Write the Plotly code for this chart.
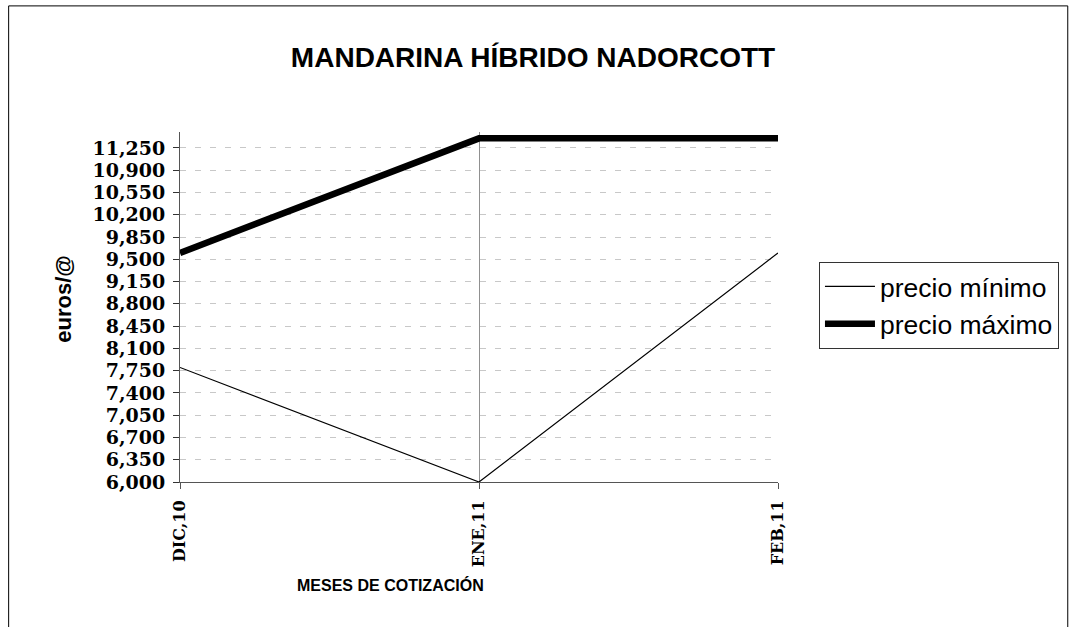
import plotly.graph_objects as go

# ---- data ----
meses = ["DIC,10", "ENE,11", "FEB,11"]
precio_minimo = [7.80, 6.00, 9.60]
precio_maximo = [9.60, 11.40, 11.40]
y_ticks = [6.00 + 0.35 * i for i in range(16)]  # 6,000 ... 11,250

W, H = 1072, 627
L, R, T, B = 179.5, W - 778, 132, H - 481.7
PW, PH = W - L - R, H - T - B


def px_x(x):
    return (x - L) / PW


def px_y(y):
    return (H - B - y) / PH


fig = go.Figure()
fig.add_trace(go.Scatter(x=meses, y=precio_minimo, mode="lines", name="precio mínimo",
                         line=dict(color="black", width=1.2)))
fig.add_trace(go.Scatter(x=meses, y=precio_maximo, mode="lines", name="precio máximo",
                         line=dict(color="black", width=6.5)))

fig.update_layout(
    width=W, height=H,
    margin=dict(l=L, r=R, t=T, b=B, autoexpand=False),
    paper_bgcolor="white", plot_bgcolor="white",
    separators=",.",
    title=dict(text="<b>MANDARINA HÍBRIDO NADORCOTT</b>", x=533 / W, xanchor="center",
               y=1 - 57 / H, yanchor="middle",
               font=dict(family="Liberation Sans, Arial", size=28, color="black")),
    showlegend=True,
    legend=dict(x=px_x(819), xanchor="left", y=px_y(305), yanchor="middle",
                bordercolor="#333333", borderwidth=1, bgcolor="white",
                font=dict(family="Liberation Sans, Arial", size=26.5, color="black"),
                itemwidth=50, tracegroupgap=4),
    xaxis=dict(type="category", range=[0, 2], showline=True, linecolor="#555555", linewidth=1,
               ticks="outside", ticklen=6, tickcolor="#555555", tickangle=-90,
               tickfont=dict(family="DejaVu Serif", size=16, weight="bold", color="black"),
               ticklabelstandoff=5,
               showgrid=True, gridcolor="#909090", gridwidth=1, zeroline=False),
    yaxis=dict(range=[6.0, 11.5], tickvals=y_ticks, tickformat=".3f",
               showline=True, linecolor="#555555", linewidth=1,
               ticks="outside", ticklen=6, tickcolor="#333333",
               tickfont=dict(family="DejaVu Serif", size=19, weight="bold", color="black"),
               ticklabelstandoff=4,
               showgrid=True, gridcolor="#c8c8c8", gridwidth=1, griddash="6px,9px",
               zeroline=False),
    annotations=[
        dict(text="<b>euros/@</b>", textangle=-90, x=px_x(63), y=px_y(299),
             xref="paper", yref="paper", showarrow=False, xanchor="center", yanchor="middle",
             font=dict(family="Liberation Sans, Arial", size=22, color="black")),
        dict(text="<b>MESES DE COTIZACIÓN</b>", x=px_x(390), y=px_y(585),
             xref="paper", yref="paper", showarrow=False, xanchor="center", yanchor="middle",
             font=dict(family="Liberation Sans, Arial", size=16, color="black")),
    ],
    shapes=[
        dict(type="rect", xref="paper", yref="paper",
             x0=px_x(8), x1=px_x(1068), y0=px_y(700), y1=px_y(6),
             line=dict(color="black", width=1), fillcolor="rgba(0,0,0,0)", layer="below"),
    ],
)

fig.write_html("out.html", config={"displayModeBar": False},
               post_script="document.body.style.margin='0';")
